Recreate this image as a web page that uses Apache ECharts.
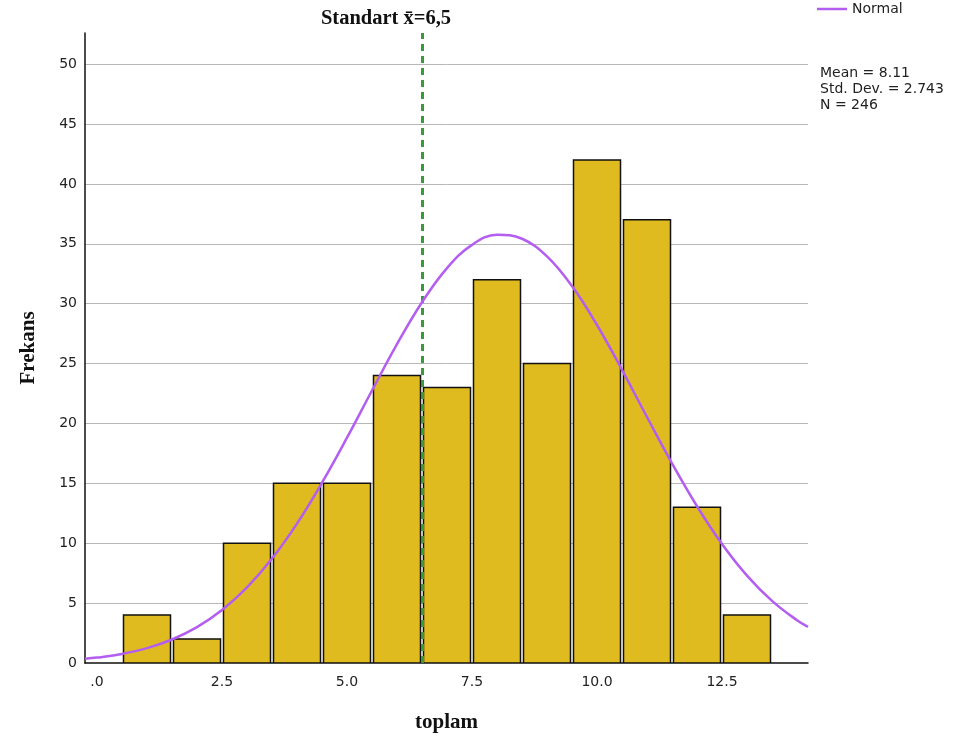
<!DOCTYPE html>
<html>
<head>
<meta charset="utf-8">
<script src="https://cdn.jsdelivr.net/npm/echarts@6/dist/echarts.min.js"></script>
<style>html,body{margin:0;padding:0;background:#fff}#c{width:965px;height:742px}</style>
</head>
<body>
<div id="c"></div>
<script>
// Histogram bins (centres) and frequencies
const binCenters = [1, 2, 3, 4, 5, 6, 7, 8, 9, 10, 11, 12, 13];
const frequencies = [4, 2, 10, 15, 15, 24, 23, 32, 25, 42, 37, 13, 4];
// Normal curve points
const curveX = [-0.24, 0, 0.5, 1, 1.5, 2, 2.5, 3, 3.5, 4, 4.5, 5, 5.5, 6, 6.5, 7, 7.5, 8, 8.5, 9, 9.5, 10, 10.5, 11, 11.5, 12, 12.5, 13, 13.5, 14, 14.22];
const curveY = [0.35, 0.45, 0.76, 1.24, 1.96, 2.99, 4.42, 6.31, 8.72, 11.64, 15.05, 18.81, 22.75, 26.62, 30.12, 32.97, 34.91, 35.75, 35.42, 33.95, 31.47, 28.22, 24.48, 20.54, 16.67, 13.09, 9.94, 7.30, 5.19, 3.57, 3.01];
const xTickValues = [0, 2.5, 5, 7.5, 10, 12.5];
const xTickLabels = ['.0', '2.5', '5.0', '7.5', '10.0', '12.5'];
const referenceX = 6.5;
const statsLines = ['Mean = 8.11', 'Std. Dev. = 2.743', 'N = 246'];

const chart = echarts.init(document.getElementById('c'));
const barData = binCenters.map((c, i) => [c, frequencies[i]]);
const curveData = curveX.map((x, i) => [x, curveY[i]]);
const sans = 'DejaVu Sans';
const serif = 'Liberation Serif';

chart.setOption({
  animation: false,
  backgroundColor: '#fff',
  title: {
    text: 'Standart x\u0304=6,5',
    left: 381, top: 3, textAlign: 'center',
    textStyle: { fontFamily: serif, fontWeight: 'bold', fontSize: 20.5, color: '#111' }
  },
  legend: {
    data: [{ name: 'Normal', icon: 'rect' }], left: 817, top: 2, padding: 0,
    itemWidth: 30, itemHeight: 2.5, itemGap: 4,
    textStyle: { fontFamily: sans, fontSize: 14, color: '#222', padding: [0, 0, 0, 0] }
  },
  grid: { left: 85, right: 157, top: 33, bottom: 79, containLabel: false },
  xAxis: {
    type: 'value', min: -0.24, max: 14.22,
    name: 'toplam', nameLocation: 'middle', nameGap: 49,
    nameTextStyle: { fontFamily: serif, fontWeight: 'bold', fontSize: 21, color: '#111' },
    axisLine: { show: true, onZero: false, lineStyle: { color: '#111', width: 1.5 } },
    axisTick: { show: false },
    splitLine: { show: false },
    axisLabel: {
      customValues: xTickValues,
      formatter: v => { const i = xTickValues.indexOf(v); return i >= 0 ? xTickLabels[i] : ''; },
      fontFamily: sans, fontSize: 14, color: '#222', margin: 12
    }
  },
  yAxis: {
    type: 'value', min: 0, max: 52.6, interval: 5,
    name: 'Frekans', nameLocation: 'middle', nameGap: 46, nameRotate: 90,
    nameTextStyle: { fontFamily: serif, fontWeight: 'bold', fontSize: 21, color: '#111' },
    axisLine: { show: true, onZero: false, lineStyle: { color: '#111', width: 1.5 } },
    axisTick: { show: false },
    axisLabel: { showMaxLabel: false, fontFamily: sans, fontSize: 14, color: '#222', margin: 8 },
    splitLine: { show: true, showMinLine: false, showMaxLine: false, lineStyle: { color: '#b8b8b8', width: 1 } }
  },
  graphic: [{
    type: 'text', left: 820, top: 65,
    style: { text: statsLines.join('\n'), font: '14px "DejaVu Sans"', fill: '#222', lineHeight: 16 }
  }],
  series: [{
    type: 'custom',
    name: 'bars',
    z: 2,
    data: barData,
    clip: true,
    renderItem: (params, api) => {
      const tl = api.coord([api.value(0) - 0.5, api.value(1)]);
      const br = api.coord([api.value(0) + 0.5, 0]);
      return {
        type: 'rect',
        shape: { x: tl[0] + 1.5, y: tl[1], width: br[0] - tl[0] - 3, height: br[1] - tl[1] },
        style: { fill: '#DFBB1F', stroke: '#111', lineWidth: 1.5 }
      };
    },
    markLine: {
      silent: true, symbol: 'none', label: { show: false },
      lineStyle: { color: '#3a9a3a', type: [7, 5], width: 3 },
      data: [{ xAxis: referenceX }]
    }
  }, {
    type: 'line',
    name: 'Normal',
    z: 5,
    data: curveData,
    smooth: 0.4,
    symbol: 'none',
    showSymbol: false,
    clip: true,
    lineStyle: { color: '#b35ef0', width: 2.5 },
    itemStyle: { color: '#b35ef0' }
  }]
});
</script>
</body>
</html>
